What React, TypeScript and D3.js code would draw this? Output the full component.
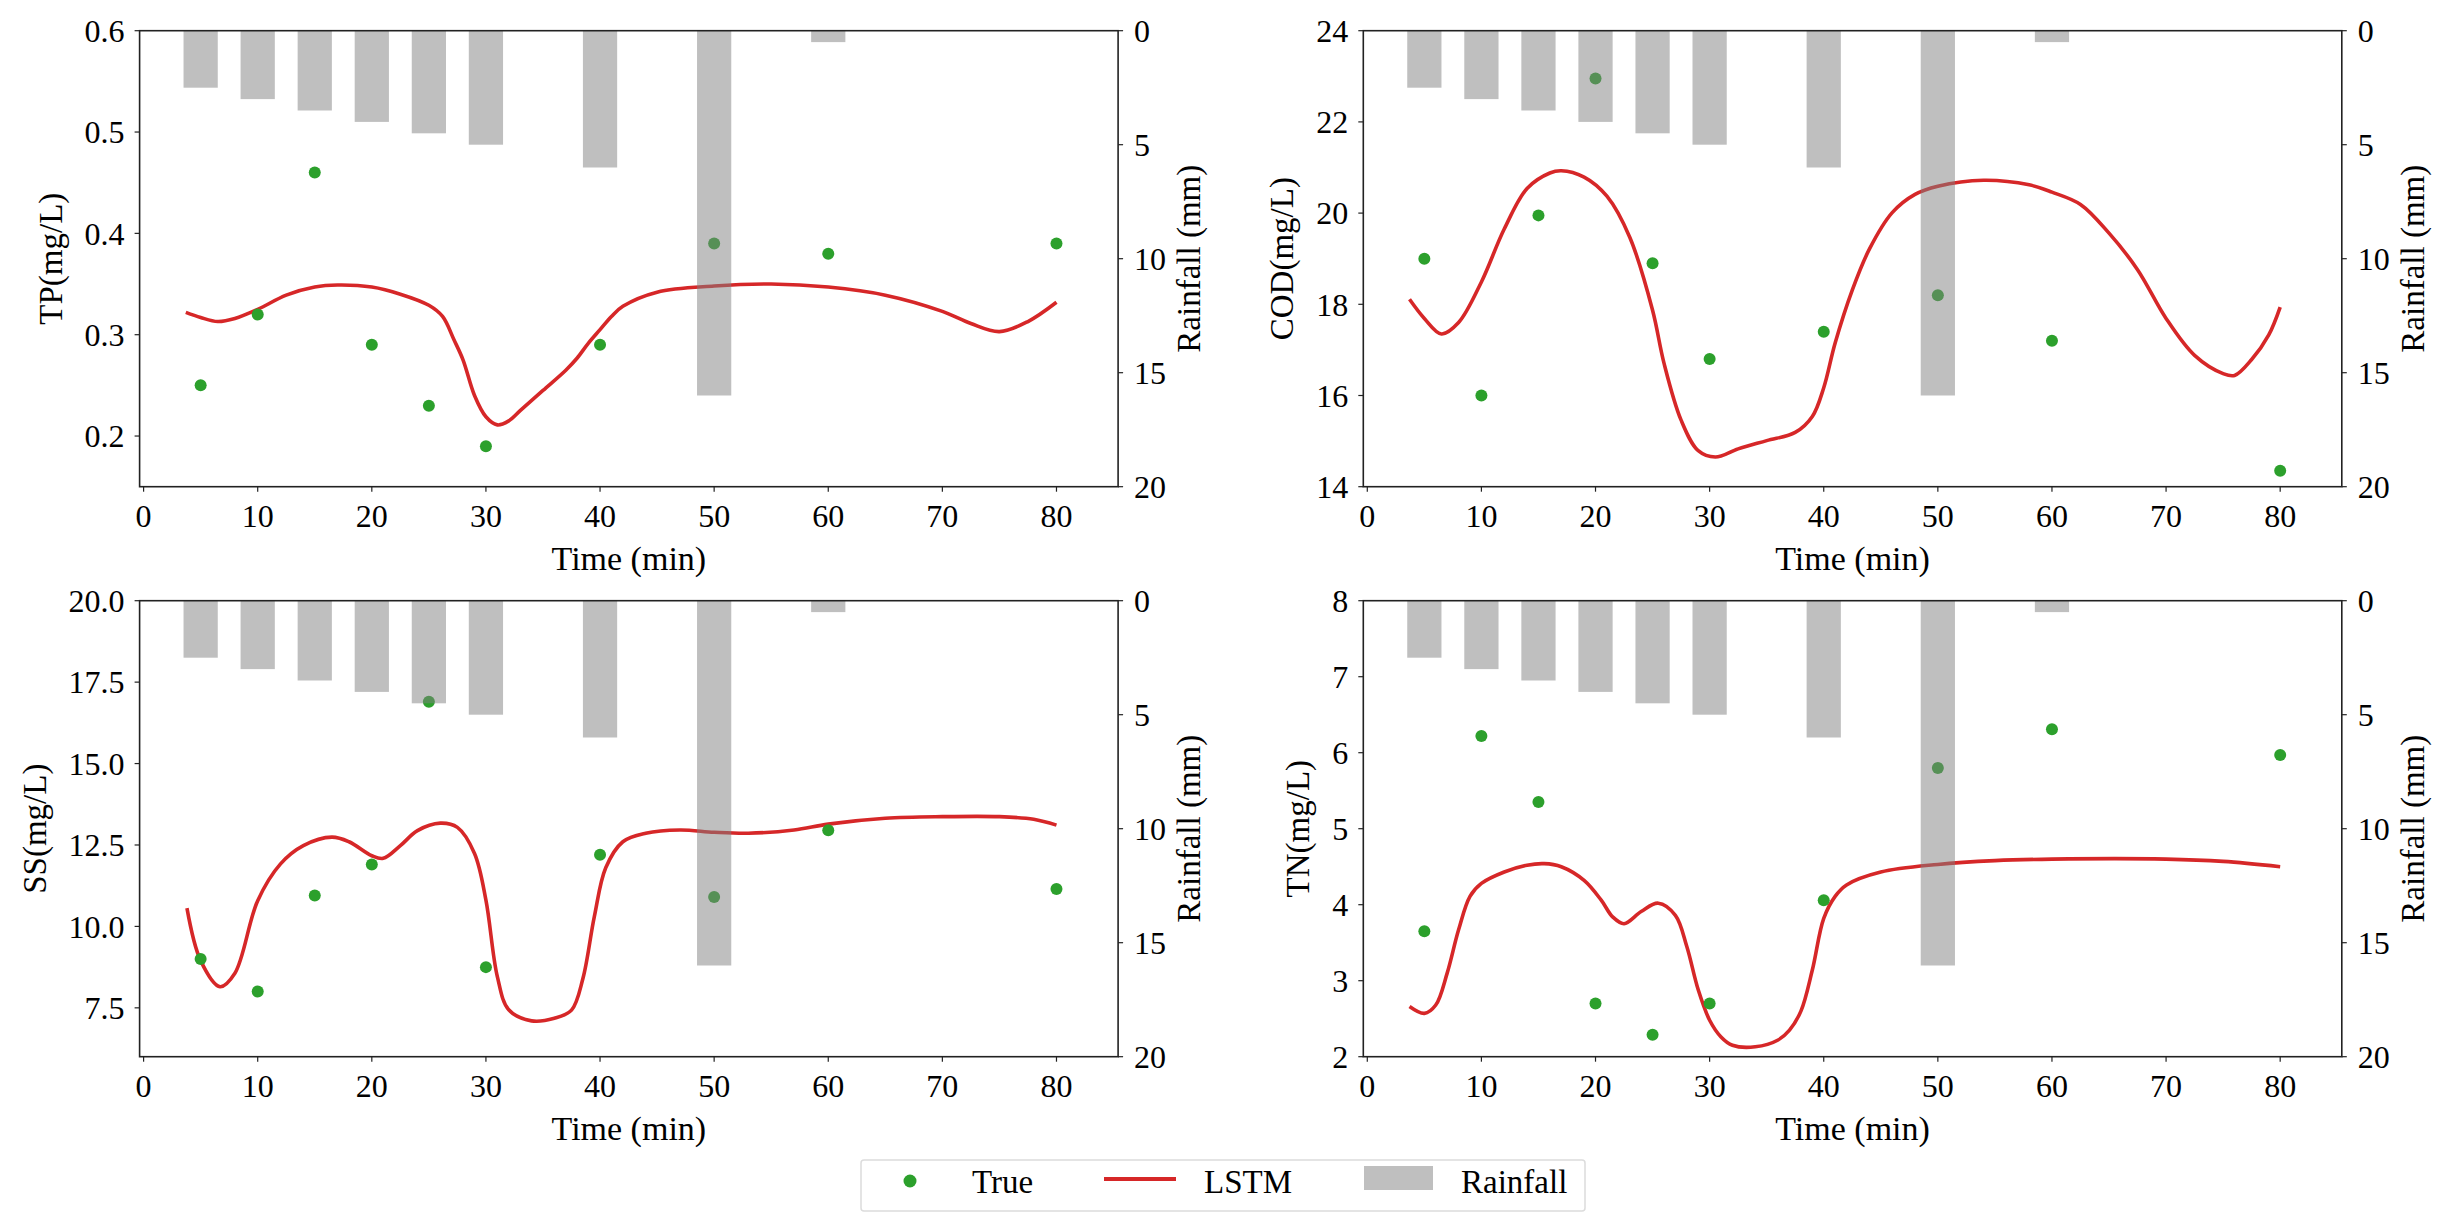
import * as d3 from 'd3';

// ---- data ----
const sampleTimes = [5, 10, 15, 20, 25, 30, 40, 50, 60, 80];
const rainTimes = [5, 10, 15, 20, 25, 30, 40, 50, 60];
const rainfall = [2.5, 3, 3.5, 4, 4.5, 5, 6, 16, 0.5];

const tpTrue = [0.25, 0.32, 0.46, 0.29, 0.23, 0.19, 0.29, 0.39, 0.38, 0.39];
const codTrue = [19.0, 16.0, 19.95, 22.95, 18.9, 16.8, 17.4, 18.2, 17.2, 14.35];
const ssTrue = [9.0, 8.0, 10.95, 11.9, 16.9, 8.75, 12.2, 10.9, 12.95, 11.15];
const tnTrue = [3.65, 6.22, 5.35, 2.7, 2.29, 2.7, 4.06, 5.8, 6.31, 5.97];

const tpLstm: [number, number][] = [
  [3.7, 0.322], [5, 0.317], [6.5, 0.313], [8, 0.316], [10, 0.325], [12.5, 0.339],
  [15, 0.347], [17, 0.349], [20, 0.347], [22.5, 0.34], [25, 0.329], [26.2, 0.318],
  [27.2, 0.295], [28, 0.275], [29, 0.24], [30, 0.219], [31, 0.211], [32, 0.215],
  [33, 0.225], [35, 0.245], [37, 0.265], [38, 0.277], [39, 0.292], [40, 0.305],
  [41, 0.318], [42, 0.328], [45, 0.342], [50, 0.348], [55, 0.35], [60, 0.347],
  [65, 0.339], [70, 0.323], [72.5, 0.311], [75, 0.303], [77.5, 0.313], [80, 0.332],
];

const codLstm: [number, number][] = [
  [3.7, 18.11], [5, 17.69], [6.5, 17.35], [8, 17.6], [10, 18.49], [12, 19.65],
  [14, 20.54], [16, 20.88], [17, 20.93], [19, 20.79], [21, 20.37], [23, 19.47],
  [25, 17.87], [26, 16.71], [27.5, 15.46], [29, 14.79], [30.5, 14.65], [32.5, 14.83],
  [35, 15.01], [37.5, 15.19], [39, 15.54], [40, 16.17], [41, 17.15], [42.5, 18.31],
  [44, 19.21], [46, 20.01], [48, 20.41], [50, 20.59], [54, 20.72], [58, 20.62],
  [60, 20.46], [62.5, 20.19], [65, 19.56], [67.5, 18.76], [70, 17.69], [72.5, 16.88],
  [75, 16.48], [76, 16.44], [77.5, 16.79], [79, 17.33], [80, 17.94],
];

const ssLstm: [number, number][] = [
  [3.8, 10.56], [5, 8.95], [6.7, 8.15], [8, 8.56], [10, 10.79], [12, 11.92],
  [14, 12.48], [16.5, 12.74], [18, 12.6], [20, 12.17], [21, 12.09], [22.5, 12.48],
  [24, 12.94], [26, 13.17], [27.5, 13.04], [29, 12.24], [30, 10.81], [31, 8.46],
  [32, 7.44], [34, 7.1], [36, 7.18], [37.5, 7.43], [38.5, 8.4], [39.5, 10.3],
  [40.5, 11.8], [42, 12.6], [44, 12.86], [47, 12.96], [50, 12.89], [53, 12.86],
  [57, 12.96], [60, 13.14], [65, 13.32], [70, 13.37], [75, 13.37], [78, 13.29],
  [80, 13.11],
];

const tnLstm: [number, number][] = [
  [3.7, 2.66], [5, 2.57], [6, 2.68], [7, 3.1], [8, 3.67], [9, 4.11], [10, 4.28],
  [12, 4.43], [14, 4.52], [15.5, 4.54], [17, 4.5], [19, 4.32], [20.5, 4.06],
  [21.5, 3.84], [22.5, 3.75], [24, 3.91], [25.5, 4.02], [27, 3.86], [28, 3.45],
  [29, 2.88], [30, 2.48], [31, 2.26], [32, 2.15], [34, 2.13], [36, 2.22], [37, 2.35],
  [38, 2.6], [39, 3.14], [40, 3.82], [41, 4.11], [42, 4.26], [45, 4.43], [50, 4.53],
  [55, 4.58], [60, 4.6], [70, 4.6], [75, 4.57], [80, 4.5],
];

const xTicks = [0, 10, 20, 30, 40, 50, 60, 70, 80];
const rainTicks = [0, 5, 10, 15, 20];

// ---- layout ----
const W = 2446;
const H = 1226;
const PW = 978.5;
const PH = 456;
const FONT = 'Liberation Serif, Times New Roman, serif';
const RED = '#d62728';
const GREEN = '#2ca02c';

interface PanelProps {
  left: number;
  top: number;
  label: string;
  domain: [number, number];
  ticks: number[];
  fmt: (v: number) => string;
  truth: number[];
  lstm: [number, number][];
}

// rough width of a Times-like numeric label
const labelWidth = (s: string, size: number) =>
  s.split('').reduce((w, c) => w + (c === '.' ? 0.25 : 0.5), 0) * size;

function Panel({ left, top, label, domain, ticks, fmt, truth, lstm }: PanelProps) {
  const x = d3.scaleLinear().domain([-0.35, 85.4]).range([0, PW]);
  const y = d3.scaleLinear().domain(domain).range([PH, 0]);
  const yr = d3.scaleLinear().domain([0, 20]).range([0, PH]);
  const line = d3
    .line<[number, number]>()
    .x((d) => x(d[0]))
    .y((d) => y(d[1]))
    .curve(d3.curveCatmullRom.alpha(0.5));

  const maxW = d3.max(ticks, (t) => labelWidth(fmt(t), 32)) ?? 40;
  const yLabelX = -(13 + maxW + 36);
  const barW = x(3) - x(0);

  return (
    <g transform={`translate(${left},${top})`} fontFamily={FONT}>
      {/* LSTM curve */}
      <path d={line(lstm) ?? ''} fill="none" stroke={RED} strokeWidth={3.6} />
      {/* observed */}
      {truth.map((v, i) => (
        <circle key={i} cx={x(sampleTimes[i])} cy={y(v)} r={6} fill={GREEN} />
      ))}
      {/* rainfall bars on twin axis, hanging from the top */}
      {rainfall.map((r, i) => (
        <rect
          key={i}
          x={x(rainTimes[i]) - barW / 2}
          y={0}
          width={barW}
          height={yr(r)}
          fill="#808080"
          fillOpacity={0.5}
        />
      ))}

      {/* frame */}
      <rect x={0} y={0} width={PW} height={PH} fill="none" stroke="#222" strokeWidth={1.6} />

      {/* x axis */}
      {xTicks.map((t) => (
        <g key={t} transform={`translate(${x(t)},${PH})`}>
          <line y2={5} stroke="#222" strokeWidth={1.2} />
          <text y={40} textAnchor="middle" fontSize={32}>
            {t}
          </text>
        </g>
      ))}
      <text x={PW / 2} y={PH + 83} textAnchor="middle" fontSize={34}>
        Time (min)
      </text>

      {/* left axis */}
      {ticks.map((t) => (
        <g key={t} transform={`translate(0,${y(t)})`}>
          <line x2={-5} stroke="#222" strokeWidth={1.2} />
          <text x={-15} dy="0.35em" textAnchor="end" fontSize={32}>
            {fmt(t)}
          </text>
        </g>
      ))}
      <text
        transform={`translate(${yLabelX},${PH / 2}) rotate(-90)`}
        textAnchor="middle"
        dominantBaseline="central"
        fontSize={33}
      >
        {label}
      </text>

      {/* right axis */}
      {rainTicks.map((t) => (
        <g key={t} transform={`translate(${PW},${yr(t)})`}>
          <line x2={5} stroke="#222" strokeWidth={1.2} />
          <text x={16} dy="0.35em" textAnchor="start" fontSize={32}>
            {t}
          </text>
        </g>
      ))}
      <text
        transform={`translate(${PW + 71},${PH / 2}) rotate(-90)`}
        textAnchor="middle"
        dominantBaseline="central"
        fontSize={33}
      >
        Rainfall (mm)
      </text>
    </g>
  );
}

function Legend() {
  return (
    <g fontFamily={FONT} fontSize={33}>
      <rect x={861} y={1160} width={724} height={51} rx={3} fill="#fff" stroke="#dcdcdc" strokeWidth={1.5} />
      <circle cx={910} cy={1181} r={6.5} fill={GREEN} />
      <text x={972} y={1181} dy="0.35em">True</text>
      <line x1={1104} x2={1176} y1={1179} y2={1179} stroke={RED} strokeWidth={4} />
      <text x={1204} y={1181} dy="0.35em">LSTM</text>
      <rect x={1364} y={1166} width={69} height={24} fill="#808080" fillOpacity={0.5} />
      <text x={1461} y={1181} dy="0.35em">Rainfall</text>
    </g>
  );
}

export default function App() {
  const f1 = d3.format('.1f');
  const f0 = d3.format('d');
  return (
    <svg
      width={W}
      height={H}
      viewBox={`0 0 ${W} ${H}`}
      style={{ position: 'absolute', left: 0, top: 0, background: '#fff' }}
    >
      <rect width={W} height={H} fill="#fff" />
      <Panel
        left={139.6}
        top={30.7}
        label="TP(mg/L)"
        domain={[0.15, 0.6]}
        ticks={[0.2, 0.3, 0.4, 0.5, 0.6]}
        fmt={f1}
        truth={tpTrue}
        lstm={tpLstm}
      />
      <Panel
        left={1363.3}
        top={30.7}
        label="COD(mg/L)"
        domain={[14, 24]}
        ticks={[14, 16, 18, 20, 22, 24]}
        fmt={f0}
        truth={codTrue}
        lstm={codLstm}
      />
      <Panel
        left={139.6}
        top={600.7}
        label="SS(mg/L)"
        domain={[6, 20]}
        ticks={[7.5, 10, 12.5, 15, 17.5, 20]}
        fmt={f1}
        truth={ssTrue}
        lstm={ssLstm}
      />
      <Panel
        left={1363.3}
        top={600.7}
        label="TN(mg/L)"
        domain={[2, 8]}
        ticks={[2, 3, 4, 5, 6, 7, 8]}
        fmt={f0}
        truth={tnTrue}
        lstm={tnLstm}
      />
      <Legend />
    </svg>
  );
}
